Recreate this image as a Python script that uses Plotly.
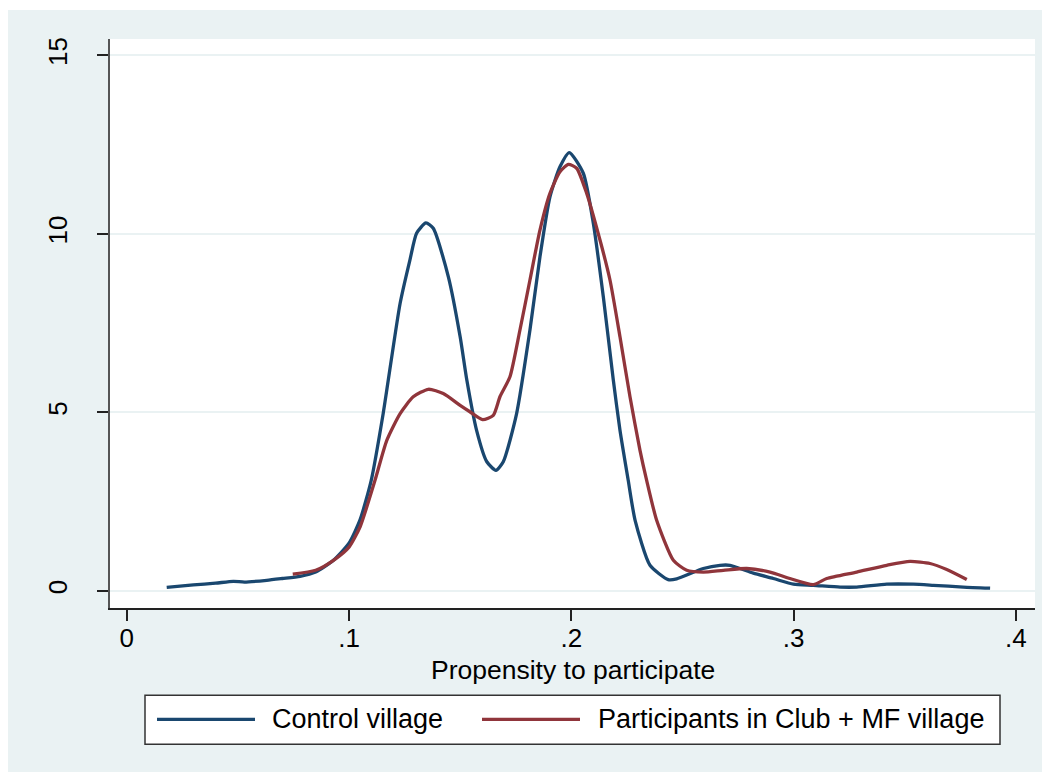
import plotly.graph_objects as go

# ---- data ----
control_x = [0.018, 0.030, 0.040, 0.048, 0.053, 0.063, 0.070, 0.078, 0.085, 0.093,
             0.100, 0.105, 0.110, 0.1154, 0.123, 0.1274, 0.1304, 0.1346, 0.1379, 0.1447,
             0.150, 0.153, 0.1574, 0.162, 0.1661, 0.1694, 0.1754, 0.1814, 0.1859, 0.1904,
             0.1949, 0.1991, 0.2054, 0.2099, 0.2144, 0.2189, 0.2219, 0.2256, 0.2287, 0.2354,
             0.2436, 0.2474, 0.2594, 0.2669, 0.2714, 0.2819, 0.2909, 0.2999, 0.3089, 0.3209,
             0.3284, 0.3419, 0.3539, 0.3629, 0.3763, 0.3884]
control_y = [0.10, 0.17, 0.22, 0.27, 0.25, 0.30, 0.35, 0.41, 0.53, 0.86,
             1.34, 2.0, 3.10, 4.98, 8.06, 9.27, 10.02, 10.31, 10.16, 8.80,
             7.12, 5.91, 4.50, 3.62, 3.38, 3.62, 4.97, 7.31, 9.36, 11.04,
             11.88, 12.28, 11.70, 10.30, 8.24, 5.91, 4.50, 3.10, 1.98, 0.72,
             0.32, 0.34, 0.63, 0.72, 0.72, 0.50, 0.35, 0.19, 0.16, 0.11,
             0.11, 0.19, 0.19, 0.16, 0.11, 0.08]

club_x = [0.0747, 0.085, 0.093, 0.100, 0.105, 0.1117, 0.117, 0.123, 0.1289, 0.1357,
          0.1424, 0.150, 0.1544, 0.1601, 0.1649, 0.1679, 0.1724, 0.1769, 0.1814, 0.1859,
          0.1904, 0.1949, 0.1987, 0.2024, 0.2069, 0.2129, 0.2174, 0.2219, 0.2264, 0.2309,
          0.2339, 0.2384, 0.2459, 0.2519, 0.2594, 0.2684, 0.2789, 0.2894, 0.2984, 0.3089,
          0.3149, 0.3284, 0.3419, 0.3524, 0.3614, 0.3689, 0.3779]
club_y = [0.47, 0.58, 0.86, 1.23, 1.80, 3.10, 4.22, 4.97, 5.44, 5.65,
          5.53, 5.20, 5.02, 4.80, 4.92, 5.44, 6.00, 7.31, 8.71, 10.11,
          11.14, 11.74, 11.95, 11.84, 11.14, 9.83, 8.71, 7.12, 5.44, 3.94,
          3.10, 1.98, 0.86, 0.58, 0.53, 0.58, 0.63, 0.53, 0.35, 0.18,
          0.35, 0.53, 0.72, 0.83, 0.77, 0.60, 0.32]

series_names = ["Control village", "Participants in Club + MF village"]
x_tickvals = [0, 0.1, 0.2, 0.3, 0.4]
x_ticktext = ["0", ".1", ".2", ".3", ".4"]
y_tickvals = [0, 5, 10, 15]
y_ticktext = ["0", "5", "10", "15"]
x_title = "Propensity to participate"

NAVY = "#1A476F"
MAROON = "#90353B"
BG = "#EAF2F3"
FONT = "Arial, Liberation Sans, sans-serif"
FS_TICK = 26
FS_TITLE = 26.5
FS_LEG = 27

# the page body adds an 8 px offset, so figure coordinates = reference - 8
OFF = 8
W, H = 1050 - OFF, 772 - OFF
L, R, T, B = 110 - OFF, 1050 - 1035, 39 - OFF, 772 - 607.7
PW = W - L - R
PH = H - T - B


def px_x(p):
    return (p - OFF - L) / PW


def px_y(p):
    return (H - B - (p - OFF)) / PH


fig = go.Figure()
fig.add_trace(go.Scatter(x=control_x, y=control_y, mode="lines", name=series_names[0],
                         line=dict(color=NAVY, width=3.3, shape="spline", smoothing=0.6),
                         showlegend=False))
fig.add_trace(go.Scatter(x=club_x, y=club_y, mode="lines", name=series_names[1],
                         line=dict(color=MAROON, width=3.3, shape="spline", smoothing=0.6),
                         showlegend=False))

shapes = []
# thin white border at the top of the image
shapes.append(dict(type="rect", xref="paper", yref="paper", x0=px_x(0), x1=px_x(1060),
                   y0=px_y(10), y1=px_y(0), fillcolor="white", line_width=0, layer="above"))
# legend box
shapes.append(dict(type="rect", xref="paper", yref="paper", x0=px_x(145), x1=px_x(1000),
                   y0=px_y(744), y1=px_y(695), fillcolor="white",
                   line=dict(color="#333333", width=1.5), layer="above"))
# legend line samples
shapes.append(dict(type="line", xref="paper", yref="paper", x0=px_x(157), x1=px_x(255),
                   y0=px_y(719), y1=px_y(719), line=dict(color=NAVY, width=3.3), layer="above"))
shapes.append(dict(type="line", xref="paper", yref="paper", x0=px_x(482), x1=px_x(580),
                   y0=px_y(719), y1=px_y(719), line=dict(color=MAROON, width=3.3), layer="above"))

annotations = [
    dict(text=series_names[0], xref="paper", yref="paper", x=px_x(270), y=px_y(719),
         xanchor="left", yanchor="middle", showarrow=False,
         font=dict(size=FS_LEG, color="black", family=FONT)),
    dict(text=series_names[1], xref="paper", yref="paper", x=px_x(596), y=px_y(719),
         xanchor="left", yanchor="middle", showarrow=False,
         font=dict(size=FS_LEG, color="black", family=FONT)),
    # x-axis title
    dict(text=x_title, xref="paper", yref="paper", x=0.5, y=px_y(670),
         xanchor="center", yanchor="middle", showarrow=False,
         font=dict(size=FS_TITLE, color="black", family=FONT)),
]

fig.update_layout(
    width=W, height=H,
    margin=dict(l=L, r=R, t=T, b=B, pad=0),
    paper_bgcolor=BG, plot_bgcolor="white",
    font=dict(family=FONT, size=FS_TICK, color="black"),
    showlegend=False,
    shapes=shapes, annotations=annotations,
    xaxis=dict(range=[(110 - 126.7) / 2223, (1035 - 126.7) / 2223],
               tickvals=x_tickvals, ticktext=x_ticktext,
               showgrid=False, zeroline=False,
               showline=True, linecolor="#222222", linewidth=1.5,
               ticks="outside", ticklen=11, tickwidth=1.5, tickcolor="#222222",
               ticklabelstandoff=-5),
    yaxis=dict(range=[-0.476, 15.46],
               tickvals=y_tickvals, ticktext=y_ticktext, tickangle=-90,
               showgrid=True, gridcolor=BG, gridwidth=2, zeroline=False,
               showline=True, linecolor="#555555", linewidth=2,
               ticks="outside", ticklen=11, tickwidth=1.5, tickcolor="#222222",
               ticklabelstandoff=20),
)

fig.write_html("out.html")
